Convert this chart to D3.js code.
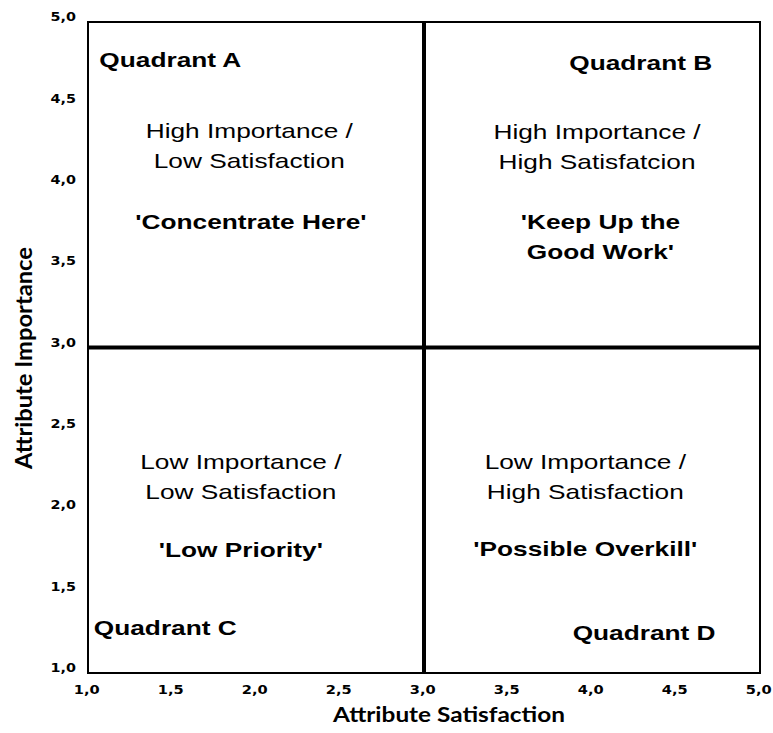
<!DOCTYPE html>
<html>
<head>
<meta charset="utf-8">
<script src="https://cdn.jsdelivr.net/npm/d3@7"></script>
<style>
  body { margin: 0; background: #fff; }
  svg { display: block; }
</style>
</head>
<body>
<div id="chart"></div>
<script>
// axis values
var xDomain = [1.0, 5.0];
var yDomain = [1.0, 5.0];
var xTicks = [1.0, 1.5, 2.0, 2.5, 3.0, 3.5, 4.0, 4.5, 5.0];
var yTicks = [1.0, 1.5, 2.0, 2.5, 3.0, 3.5, 4.0, 4.5, 5.0];
var xSplit = 3.0; // satisfaction divider
var ySplit = 3.0; // importance divider

var xTitle = "Attribute Satisfaction";
var yTitle = "Attribute Importance";

// quadrant texts, order A, B, C, D
var quadrantNames = ["Quadrant A", "Quadrant B", "Quadrant C", "Quadrant D"];
var quadrantDesc = [
  ["High Importance /", "Low Satisfaction"],
  ["High Importance /", "High Satisfatcion"],
  ["Low Importance /", "Low Satisfaction"],
  ["Low Importance /", "High Satisfaction"]
];
var quadrantSlogans = [
  ["'Concentrate Here'"],
  ["'Keep Up the", "Good Work'"],
  ["'Low Priority'"],
  ["'Possible Overkill'"]
];

// layout (pixels)
var W = 773, H = 733;
var m = {top: 22, right: 13, bottom: 60, left: 88};
var w = W - m.left - m.right;
var h = H - m.top - m.bottom;
var SX = 1.25; // the reference text is stretched sideways

// anchors of the text blocks, in data units
var nameAnchors = [[1.49, 4.77], [4.29, 4.75], [1.46, 1.28], [4.31, 1.25]];
var descAnchors = [[1.96, 4.335], [4.03, 4.33], [1.91, 2.30], [3.96, 2.30]];
var sloganAnchors = [[1.97, 3.777], [4.05, 3.777], [1.91, 1.756], [3.96, 1.762]];
var lineGap = 30;

var x = d3.scaleLinear().domain(xDomain).range([0, w]);
var y = d3.scaleLinear().domain(yDomain).range([h, 0]);

var svg = d3.select("#chart").append("svg")
  .attr("width", W)
  .attr("height", H);

var g = svg.append("g")
  .attr("transform", "translate(" + m.left + "," + m.top + ")");

var fmt = function(d) { return d3.format(".1f")(d).replace(".", ","); };

// axes
var yAxis = d3.axisLeft(y).tickValues(yTicks).tickSize(0).tickPadding(9.6).tickFormat(fmt);
var xAxis = d3.axisBottom(x).tickValues(xTicks).tickSize(0).tickPadding(12).tickFormat(fmt);

var yg = g.append("g").attr("class", "y axis").call(yAxis);
yg.select(".domain").remove();
yg.selectAll("text")
  .attr("font-family", "DejaVu Sans")
  .attr("font-weight", "bold")
  .attr("font-size", 11.5)
  .attr("fill", "#000")
  .attr("dy", "-0.12em")
  .attr("transform", "scale(" + SX + ",1)");

var xg = g.append("g").attr("class", "x axis")
  .attr("transform", "translate(0," + h + ")")
  .call(xAxis);
xg.select(".domain").remove();
xg.selectAll("text")
  .attr("font-family", "DejaVu Sans")
  .attr("font-weight", "bold")
  .attr("font-size", 12.5)
  .attr("fill", "#000")
  .attr("x", -1.5)
  .attr("transform", "scale(1.17,1)");

// frame
g.append("rect")
  .attr("x", x(xDomain[0]))
  .attr("y", y(yDomain[1]))
  .attr("width", x(xDomain[1]) - x(xDomain[0]))
  .attr("height", y(yDomain[0]) - y(yDomain[1]))
  .attr("fill", "none")
  .attr("stroke", "#000")
  .attr("stroke-width", 2);

// quadrant dividers
g.append("line")
  .attr("x1", x(xDomain[0])).attr("x2", x(xDomain[1]))
  .attr("y1", y(ySplit)).attr("y2", y(ySplit))
  .attr("stroke", "#000").attr("stroke-width", 4);
g.append("line")
  .attr("x1", x(xSplit)).attr("x2", x(xSplit))
  .attr("y1", y(yDomain[0])).attr("y2", y(yDomain[1]))
  .attr("stroke", "#000").attr("stroke-width", 4);

function addLines(lines, anchor, bold) {
  lines.forEach(function(t, i) {
    g.append("text")
      .attr("transform", "translate(" + x(anchor[0]) + "," + (y(anchor[1]) + i * lineGap) + ") scale(" + SX + ",1)")
      .attr("text-anchor", "middle")
      .attr("dominant-baseline", "central")
      .attr("font-family", "Liberation Sans, Arial, sans-serif")
      .attr("font-size", 21)
      .attr("font-weight", bold ? "bold" : "normal")
      .attr("fill", "#000")
      .text(t);
  });
}

quadrantNames.forEach(function(name, i) {
  addLines([name], nameAnchors[i], true);
  addLines(quadrantDesc[i], descAnchors[i], false);
  addLines(quadrantSlogans[i], sloganAnchors[i], true);
});

// axis titles
svg.append("text")
  .attr("x", 449)
  .attr("y", 722)
  .attr("text-anchor", "middle")
  .attr("font-family", "Lato, sans-serif")
  .attr("font-weight", "bold")
  .attr("font-size", 21)
  .attr("textLength", 232)
  .attr("lengthAdjust", "spacingAndGlyphs")
  .attr("fill", "#000")
  .text(xTitle);

svg.append("text")
  .attr("transform", "translate(32,358) rotate(-90)")
  .attr("text-anchor", "middle")
  .attr("font-family", "Lato, sans-serif")
  .attr("font-weight", "bold")
  .attr("font-size", 23)
  .attr("textLength", 222)
  .attr("lengthAdjust", "spacingAndGlyphs")
  .attr("fill", "#000")
  .text(yTitle);
</script>
</body>
</html>
